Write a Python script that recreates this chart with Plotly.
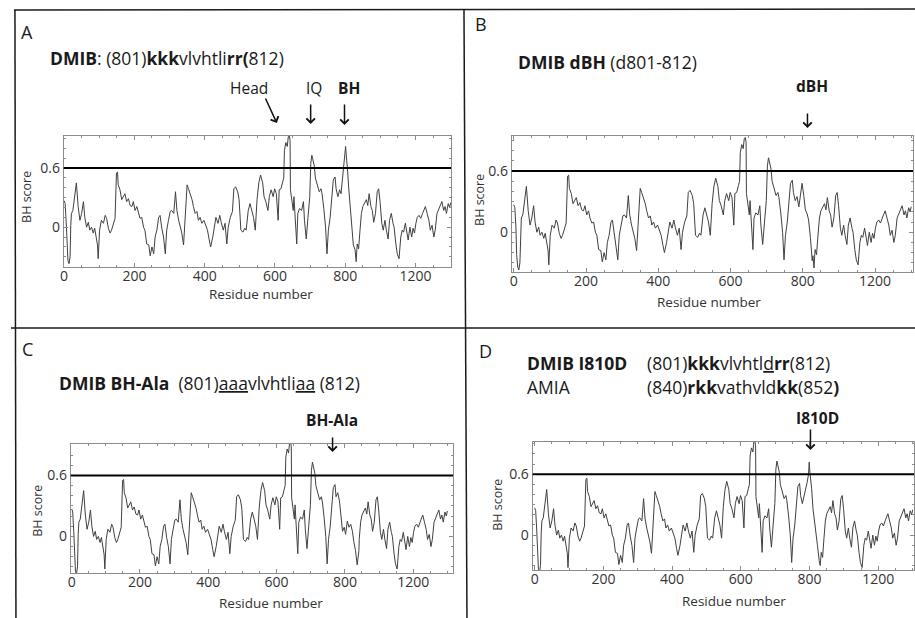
import plotly.graph_objects as go

W, H = 915, 618
FONT = "Open Sans"

# ---------------- data ----------------
residue = [0, 3, 6, 8, 11, 14, 17, 19, 21, 25, 30, 35, 40, 45, 50, 55, 59, 64, 69, 73,
           78, 83, 87, 92, 95, 97, 101, 106, 112, 117, 121, 126, 131, 135, 140, 145, 149, 152, 154, 159,
           164, 168, 173, 178, 183, 188, 193, 197, 202, 207, 211, 216, 221, 226, 230, 235, 241, 245, 250, 255,
           259, 264, 269, 273, 278, 283, 288, 292, 297, 302, 306, 312, 317, 321, 326, 331, 335, 340, 345, 350,
           354, 359, 364, 368, 373, 378, 382, 387, 392, 398, 402, 408, 413, 417, 423, 428, 432, 438, 443, 447,
           453, 458, 463, 467, 473, 479, 483, 488, 494, 498, 503, 509, 514, 518, 524, 529, 533, 539, 544, 549,
           554, 559, 565, 569, 574, 580, 584, 589, 595, 599, 604, 609, 612, 617, 622, 625, 627, 631, 635, 638,
           641, 643, 644, 649, 652, 654, 658, 662, 665, 670, 676, 681, 684, 689, 694, 699, 702, 705, 707, 712,
           715, 721, 726, 731, 734, 739, 744, 748, 752, 757, 761, 766, 771, 774, 779, 784, 788, 792, 797, 799,
           801, 804, 806, 810, 815, 819, 823, 828, 831, 834, 838, 842, 846, 850, 855, 860, 864, 868, 873, 877,
           881, 886, 891, 895, 899, 904, 908, 913, 917, 922, 926, 931, 936, 939, 944, 948, 953, 958, 962, 966,
           971, 975, 979, 984, 989, 993, 997, 1001, 1005, 1010, 1015, 1020, 1024, 1028, 1033, 1038, 1042, 1047, 1052, 1056,
           1061, 1065, 1070, 1075, 1080, 1084, 1088, 1093, 1097, 1100]
bh_dmib = [0.27, 0.24, 0.05, -0.22, -0.34, -0.37, -0.30, 0.02, 0.14, 0.17, 0.31, 0.45, 0.21, 0.07, 0.14, 0.26, 0.10, 0.00, 0.05, -0.03,
           0.00, -0.06, -0.01, -0.12, -0.18, -0.32, -0.03, 0.07, 0.04, 0.12, 0.09, -0.01, -0.06, -0.03, 0.04, 0.09, 0.55, 0.56, 0.43, 0.38,
           0.28, 0.31, 0.34, 0.26, 0.29, 0.22, 0.21, 0.26, 0.17, 0.21, 0.14, 0.09, 0.10, 0.00, -0.03, -0.17, -0.18, -0.29, -0.20, -0.27,
           -0.10, -0.03, 0.10, 0.12, -0.01, -0.10, -0.27, -0.03, 0.07, 0.16, 0.17, 0.14, 0.36, 0.17, 0.07, 0.00, -0.06, -0.18, 0.12, 0.43,
           0.39, 0.34, 0.28, 0.21, 0.14, 0.16, 0.07, 0.10, 0.04, 0.07, 0.02, -0.03, -0.13, -0.20, -0.10, 0.00, 0.10, 0.04, 0.12, 0.05,
           -0.03, 0.04, -0.17, 0.00, 0.10, 0.16, 0.39, 0.41, 0.36, 0.28, -0.03, -0.05, -0.01, -0.03, 0.17, 0.24, 0.17, 0.10, -0.03, 0.28,
           0.45, 0.53, 0.45, 0.31, 0.26, 0.17, 0.31, 0.38, 0.31, 0.39, 0.34, 0.07, 0.38, 0.39, 0.46, 0.50, 0.78, 0.86, 0.82, 0.92,
           0.93, 0.88, 0.38, 0.26, 0.17, 0.31, 0.04, -0.17, 0.14, 0.19, 0.17, 0.26, 0.07, -0.12, 0.10, 0.31, 0.65, 0.73, 0.70, 0.62,
           0.50, 0.43, 0.36, 0.39, 0.34, 0.19, 0.00, -0.27, -0.03, 0.10, 0.31, 0.48, 0.51, 0.39, 0.31, 0.38, 0.34, 0.48, 0.67, 0.80,
           0.82, 0.68, 0.61, 0.39, 0.14, -0.03, -0.18, -0.23, -0.35, -0.17, -0.22, -0.03, 0.14, 0.21, 0.24, 0.28, 0.22, 0.34, 0.21, 0.17,
           0.05, 0.14, 0.36, 0.39, 0.26, 0.04, -0.03, 0.07, -0.03, -0.12, 0.07, 0.14, 0.04, 0.00, -0.17, -0.27, -0.32, -0.10, -0.03, -0.05,
           0.04, -0.03, -0.13, 0.00, -0.10, -0.01, -0.06, 0.04, 0.10, 0.12, 0.09, 0.14, 0.17, 0.21, 0.14, 0.07, -0.03, 0.02, -0.10, -0.03,
           0.14, 0.17, 0.21, 0.26, 0.17, 0.21, 0.14, 0.24, 0.20, 0.25]

# panel-specific stretches around the basic-hydrophobic (BH) site
dbh_res = [784, 789, 793, 798, 803, 807, 812, 816, 821, 826]
dbh_val = [0.35, 0.25, 0.38, 0.48, 0.35, 0.22, 0.18, 0.12, -0.05, -0.28]

ala_res = [779, 784, 788, 793, 798, 802, 807, 812, 817, 822, 826, 831, 836, 841]
ala_val = [0.43, 0.35, 0.22, 0.05, 0.09, 0.02, 0.15, 0.09, 0.12, 0.05, -0.05, -0.14, -0.28, -0.14]

i810d_res = [788, 793, 797, 799, 801, 804, 806, 810, 815, 819, 823, 828, 831]
i810d_val = [0.46, 0.52, 0.60, 0.72, 0.62, 0.55, 0.46, 0.26, 0.14, 0.00, -0.10, -0.25, -0.30]

threshold = 0.6
x_tickvals = [0, 200, 400, 600, 800, 1000]
x_ticktext = ["0", "200", "400", "600", "800", "1200"]
y_tickvals = [0, 0.6]
y_ticktext = ["0", "0.6"]


def splice(res, val):
    lo, hi = min(res), max(res)
    pts = [(r, v) for r, v in zip(residue, bh_dmib) if r < lo or r > hi]
    pts += list(zip(res, val))
    pts.sort()
    return [p[0] for p in pts], [p[1] for p in pts]


series = {
    "A": (residue, bh_dmib),
    "B": splice(dbh_res, dbh_val),
    "C": splice(ala_res, ala_val),
    "D": splice(i810d_res, i810d_val),
}

# ---------------- layout geometry (pixels) ----------------
panels = {
    "A": dict(box=(60, 449, 136, 267), xr=(-1, 1101), yr=(-0.404, 0.926)),
    "B": dict(box=(510, 913, 136, 272), xr=(-5.5, 1105), yr=(-0.39, 0.944)),
    "C": dict(box=(67, 451, 444, 573), xr=(-2.9, 1116.6), yr=(-0.36, 0.909)),
    "D": dict(box=(531, 914, 442, 570), xr=(-5.8, 1104), yr=(-0.344, 0.918)),
}


def px(x):
    return x / W


def py(y):
    return 1 - y / H


fig = go.Figure()
layout = dict(
    width=W, height=H, margin=dict(l=0, r=0, t=0, b=0),
    paper_bgcolor="white", plot_bgcolor="white", showlegend=False,
    font=dict(family=FONT, color="#222"),
)
shapes = []
annotations = []

axis_col = "#8c8c8c"
for i, key in enumerate(["A", "B", "C", "D"]):
    p = panels[key]
    x0, x1, y0, y1 = p["box"]
    suffix = "" if i == 0 else str(i + 1)
    xa, ya = "xaxis" + suffix, "yaxis" + suffix
    xs, ys = series[key]
    fig.add_trace(go.Scatter(x=xs, y=ys, mode="lines", xaxis="x" + suffix, yaxis="y" + suffix,
                             line=dict(color="#404040", width=1), hoverinfo="skip"))
    layout[xa] = dict(
        domain=[px(x0), px(x1)], range=list(p["xr"]), anchor="y" + suffix,
        tickmode="array", tickvals=x_tickvals, ticktext=x_ticktext,
        ticks="inside", ticklen=4, tickcolor=axis_col, ticklabelstandoff=-4,
        minor=dict(ticks="inside", ticklen=2, tickcolor=axis_col, tickmode="linear", tick0=0, dtick=50),
        showline=True, linecolor=axis_col, linewidth=1, mirror="ticks",
        showgrid=False, zeroline=False,
        tickfont=dict(family=FONT, size=14, color="#333"),
    )
    layout[ya] = dict(
        domain=[py(y1), py(y0)], range=list(p["yr"]), anchor="x" + suffix,
        tickmode="array", tickvals=y_tickvals, ticktext=y_ticktext,
        ticks="inside", ticklen=4, tickcolor=axis_col,
        minor=dict(ticks="inside", ticklen=2, tickcolor=axis_col, tickmode="linear", tick0=0, dtick=0.1),
        showline=True, linecolor=axis_col, linewidth=1, mirror="ticks",
        showgrid=False, zeroline=False,
        tickfont=dict(family=FONT, size=14, color="#333"),
    )
    shapes.append(dict(type="line", xref="x" + suffix + " domain", yref="y" + suffix,
                       x0=0, x1=1, y0=threshold, y1=threshold,
                       line=dict(color="black", width=2)))

# frame lines of the figure
frame_col = "#1a1a1a"
shapes += [
    dict(type="line", xref="paper", yref="paper", x0=px(10), x1=px(915), y0=py(10), y1=py(9),
         line=dict(color=frame_col, width=1.5)),
    dict(type="line", xref="paper", yref="paper", x0=px(11), x1=px(12), y0=py(10), y1=py(618),
         line=dict(color=frame_col, width=1.5)),
    dict(type="line", xref="paper", yref="paper", x0=px(462), x1=px(465), y0=py(9), y1=py(618),
         line=dict(color=frame_col, width=1.5)),
    dict(type="line", xref="paper", yref="paper", x0=px(7), x1=px(915), y0=py(328), y1=py(328),
         line=dict(color=frame_col, width=1.5)),
]


def text(x, y, s, size, xanchor="center", angle=0, color="#1a1a1a"):
    annotations.append(dict(xref="paper", yref="paper", x=px(x), y=py(y), text=s, showarrow=False,
                            xanchor=xanchor, yanchor="middle", textangle=angle, borderpad=0,
                            font=dict(family=FONT, size=size, color=color)))


def arrow(tail, tip):
    annotations.append(dict(xref="paper", yref="paper", x=px(tip[0]), y=py(tip[1]), text="",
                            showarrow=True, axref="pixel", ayref="pixel",
                            ax=tail[0] - tip[0], ay=tail[1] - tip[1],
                            arrowhead=4, arrowsize=1.1, arrowwidth=1.5, arrowcolor="#111",
                            standoff=0, startstandoff=0))


U = '<span style="text-decoration:underline">%s</span>'

# panel letters
text(23, 32, "A", 18)
text(479, 24, "B", 18)
text(24, 349, "C", 18)
text(484, 351, "D", 18)

# panel titles
TS = 17.5
text(45, 58, "<b>DMIB</b>: (801)<b>kkk</b>vlvhtli<b>rr(</b>812)", TS, "left")
text(515, 62, "<b>DMIB dBH</b> (d801-812)", TS, "left")
text(54, 383, "<b>DMIB BH-Ala</b>  (801)" + U % "aaa" + "vlvhtli" + U % "aa" + " (812)", TS, "left")
text(524, 363, "<b>DMIB I810D</b>", TS, "left")
text(645, 363, "(801)<b>kkk</b>vlvhtl" + U % "d" + "<b>rr</b>(812)", TS, "left")
text(524, 387, "AMIA", TS, "left")
text(645, 387, "(840)<b>rkk</b>vathvld<b>kk</b>(852<b>)</b>", TS, "left")

# region labels and arrows
LS = 15.5
text(246, 88, "Head", LS)
arrow((262, 97), (274, 123))
text(311, 88, "IQ", LS)
arrow((308, 103), (308, 124))
text(347, 88, "<b>BH</b>", LS)
arrow((342, 103), (342, 125))
text(812, 86, "<b>dBH</b>", LS)
arrow((807, 112), (807, 128))
text(329, 420, "<b>BH-Ala</b>", LS)
arrow((330, 436), (330, 452))
text(817, 418, "<b>I810D</b>", LS)
arrow((810, 428), (810, 450))

# axis titles
text(23, 197, "BH score", 12.5, angle=-90, color="#333")
text(258, 294, "Residue number", 13.5, color="#333")
text(478, 200, "BH score", 12.5, angle=-90, color="#333")
text(708, 302, "Residue number", 13.5, color="#333")
text(33, 511, "BH score", 12.5, angle=-90, color="#333")
text(268, 603, "Residue number", 13.5, color="#333")
text(495, 505, "BH score", 12.5, angle=-90, color="#333")
text(733, 601, "Residue number", 13.5, color="#333")

layout["shapes"] = shapes
layout["annotations"] = annotations
fig.update_layout(**layout)
fig.write_html("out.html", config={"displayModeBar": False, "staticPlot": True},
               post_script="document.body.style.margin='0';")
